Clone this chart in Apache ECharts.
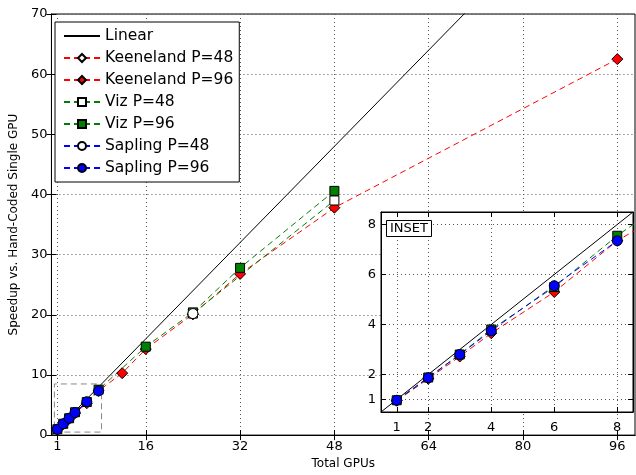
<!DOCTYPE html>
<html>
<head>
<meta charset="utf-8">
<script src="https://cdn.jsdelivr.net/npm/echarts@6/dist/echarts.min.js"></script>
<style>
    html, body { margin: 0; padding: 0; background: #fff; }
    #chart { width: 636px; height: 475px; }
</style>
</head>
<body>
<div id="chart"></div>
<script>
// GPU counts and measured speedups
const gpus = [1, 2, 3, 4, 6, 8, 12, 16, 24, 32, 48, 96]
const keeneland96 = [0.95, 1.83, 2.72, 3.65, 5.3, 7.35, 10.3, 14.3, 20.1, 26.8, 37.8, 62.5]
const keeneland48Gpus = [24]
const keeneland48 = [20.1]
const viz96Gpus = [1, 2, 3, 4, 6, 8, 16, 24, 32, 48]
const viz96 = [0.97, 1.88, 2.8, 3.8, 5.5, 7.55, 14.7, 20.4, 27.8, 40.6]
const viz48Gpus = [24, 48]
const viz48 = [20.2, 39.0]
const sapling48Gpus = [24]
const sapling48 = [20.2]
const sapling96Gpus = [1, 2, 3, 4, 6, 8]
const sapling96 = [0.97, 1.87, 2.8, 3.75, 5.55, 7.35]

const mainXTicks = [1, 16, 32, 48, 64, 80, 96]
const insetTicks = [1, 2, 4, 6, 8]
const mainXRange = [0, 99]
const mainYRange = [0, 70]
const insetRange = [0.5, 8.5]

const FONT = 'DejaVu Sans'
const pair = (xs, ys) => xs.map((x, i) => [x, ys[i]])

const chart = echarts.init(document.getElementById('chart'))

const runSeries = [
    { name: 'Keeneland P=48', xs: keeneland48Gpus, ys: keeneland48, color: '#ff0000', fill: '#ffffff', symbol: 'diamond', size: 11 },
    { name: 'Keeneland P=96', xs: gpus, ys: keeneland96, color: '#ff0000', fill: '#ff0000', symbol: 'diamond', size: 11 },
    { name: 'Viz P=48', xs: viz48Gpus, ys: viz48, color: '#008000', fill: '#ffffff', symbol: 'rect', size: 9 },
    { name: 'Viz P=96', xs: viz96Gpus, ys: viz96, color: '#008000', fill: '#008000', symbol: 'rect', size: 9 },
    { name: 'Sapling P=48', xs: sapling48Gpus, ys: sapling48, color: '#0000ff', fill: '#ffffff', symbol: 'circle', size: 10 },
    { name: 'Sapling P=96', xs: sapling96Gpus, ys: sapling96, color: '#0000ff', fill: '#0000ff', symbol: 'circle', size: 10 },
]

const makeRun = (run, axisIndex, z) => ({
    name: run.name,
    type: 'line',
    xAxisIndex: axisIndex,
    yAxisIndex: axisIndex,
    z: z,
    symbol: run.symbol,
    symbolSize: run.size,
    showAllSymbol: true,
    clip: true,
    animation: false,
    lineStyle: { color: run.color, width: 1, type: [6, 4] },
    itemStyle: { color: run.fill, borderColor: '#000', borderWidth: 1 },
    emphasis: { disabled: true },
    data: pair(run.xs, run.ys),
})

const tickLabel = { color: '#000', fontFamily: FONT, fontSize: 13 }
const dotted = { color: '#555', width: 1, type: [1, 3] }

const option = {
    animation: false,
    backgroundColor: '#fff',
    title: {
        text: 'INSET', left: 386, top: 220, z: 10,
        padding: [2, 4], borderColor: '#000', borderWidth: 1, backgroundColor: '#fff',
        textStyle: { color: '#000', fontFamily: FONT, fontSize: 13, fontWeight: 'normal' },
    },
    legend: {
        orient: 'vertical', left: 55, top: 22, z: 8,
        padding: [6, 6, 6, 8], itemGap: 6, itemWidth: 36, itemHeight: 10,
        backgroundColor: '#fff', borderColor: '#000', borderWidth: 1,
        textStyle: { color: '#000', fontFamily: FONT, fontSize: 15.5, lineHeight: 16 },
        data: [{ name: 'Linear', itemStyle: { opacity: 0 } }].concat(runSeries.map(r => r.name)),
    },
    grid: [
        { left: 47, right: 1, top: 14, bottom: 31, show: true, borderColor: '#000', borderWidth: 1 },
        { left: 381, right: 3, top: 212, bottom: 63, show: true, z: 3,
          backgroundColor: '#fff', borderColor: '#000', borderWidth: 1 },
    ],
    xAxis: [
        { type: 'value', gridIndex: 0, min: mainXRange[0], max: mainXRange[1], z: 0,
          name: 'Total GPUs', nameLocation: 'middle', nameGap: 21,
          nameTextStyle: { color: '#000', fontFamily: FONT, fontSize: 12 },
          axisLine: { lineStyle: { color: '#000' } },
          axisTick: { inside: true, length: 5, customValues: mainXTicks, lineStyle: { color: '#000' } },
          axisLabel: { ...tickLabel, margin: 5, customValues: mainXTicks },
          splitLine: { show: true, lineStyle: dotted } },
        { type: 'value', gridIndex: 0, position: 'top', min: mainXRange[0], max: mainXRange[1],
          axisLine: { lineStyle: { color: '#000' } },
          axisTick: { inside: true, length: 5, customValues: mainXTicks, lineStyle: { color: '#000' } },
          axisLabel: { show: false }, splitLine: { show: false } },
        { type: 'value', gridIndex: 1, min: insetRange[0], max: insetRange[1], z: 4,
          axisLine: { lineStyle: { color: '#000' } },
          axisTick: { inside: true, length: 5, customValues: insetTicks, lineStyle: { color: '#000' } },
          axisLabel: { ...tickLabel, margin: 9, customValues: insetTicks },
          splitLine: { show: true, lineStyle: dotted } },
        { type: 'value', gridIndex: 1, position: 'top', min: insetRange[0], max: insetRange[1], z: 4,
          axisLine: { lineStyle: { color: '#000' } },
          axisTick: { inside: true, length: 5, customValues: insetTicks, lineStyle: { color: '#000' } },
          axisLabel: { show: false }, splitLine: { show: false } },
    ],
    yAxis: [
        { type: 'value', gridIndex: 0, min: mainYRange[0], max: mainYRange[1], interval: 10, z: 0,
          name: 'Speedup vs. Hand-Coded Single GPU', nameLocation: 'middle', nameGap: 24,
          nameTextStyle: { color: '#000', fontFamily: FONT, fontSize: 12 },
          axisLine: { lineStyle: { color: '#000' } },
          axisTick: { inside: true, length: 5, lineStyle: { color: '#000' } },
          axisLabel: { ...tickLabel, margin: 4 },
          splitLine: { show: true, lineStyle: dotted } },
        { type: 'value', gridIndex: 0, position: 'right', min: mainYRange[0], max: mainYRange[1], interval: 10,
          axisLine: { lineStyle: { color: '#000' } },
          axisTick: { inside: true, length: 5, lineStyle: { color: '#000' } },
          axisLabel: { show: false }, splitLine: { show: false } },
        { type: 'value', gridIndex: 1, min: insetRange[0], max: insetRange[1], z: 4,
          axisLine: { lineStyle: { color: '#000' } },
          axisTick: { inside: true, length: 5, customValues: insetTicks, lineStyle: { color: '#000' } },
          axisLabel: { ...tickLabel, margin: 5, customValues: insetTicks },
          splitLine: { show: true, lineStyle: dotted } },
        { type: 'value', gridIndex: 1, position: 'right', min: insetRange[0], max: insetRange[1], z: 4,
          axisLine: { lineStyle: { color: '#000' } },
          axisTick: { inside: true, length: 5, customValues: insetTicks, lineStyle: { color: '#000' } },
          axisLabel: { show: false }, splitLine: { show: false } },
    ],
    series: [
        { name: 'Linear', type: 'line', xAxisIndex: 0, yAxisIndex: 0, z: 2, symbol: 'none',
          clip: true, lineStyle: { color: '#000', width: 1 }, itemStyle: { color: '#000' },
          emphasis: { disabled: true },
          data: [[mainXRange[0], mainXRange[0]], [mainXRange[1], mainXRange[1]]] },
        { name: 'zoom box', type: 'line', xAxisIndex: 0, yAxisIndex: 0, z: 2, symbol: 'none',
          lineStyle: { color: '#888', width: 1, type: [6, 4] }, emphasis: { disabled: true },
          data: [
              [insetRange[0], insetRange[0]], [insetRange[1], insetRange[0]],
              [insetRange[1], insetRange[1]], [insetRange[0], insetRange[1]],
              [insetRange[0], insetRange[0]],
          ] },
        ...runSeries.map(r => makeRun(r, 0, 2)),
        { name: 'Linear', type: 'line', xAxisIndex: 2, yAxisIndex: 2, z: 5, symbol: 'none',
          clip: true, lineStyle: { color: '#000', width: 1 }, itemStyle: { color: '#000' },
          emphasis: { disabled: true },
          data: [[insetRange[0], insetRange[0]], [insetRange[1], insetRange[1]]] },
        ...runSeries.map(r => makeRun(r, 2, 5)),
    ],
}

chart.setOption(option)
</script>
</body>
</html>
